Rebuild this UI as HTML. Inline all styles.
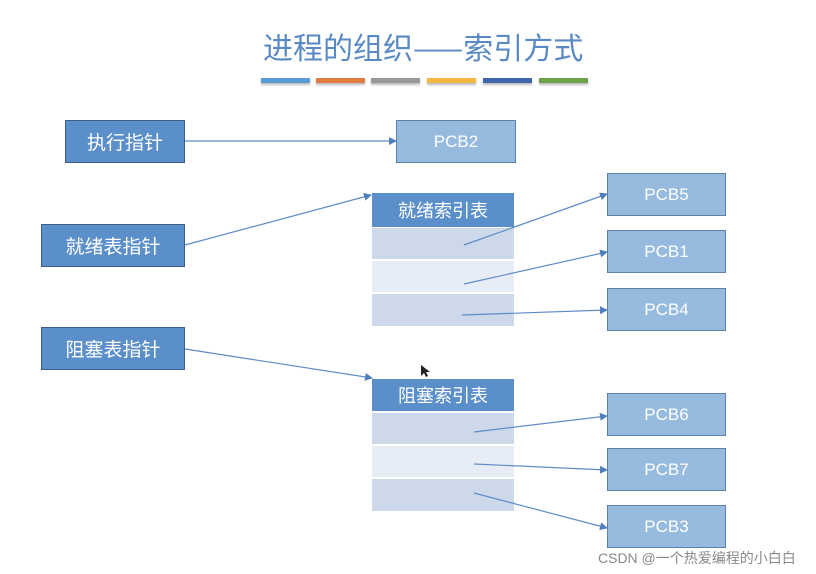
<!DOCTYPE html>
<html><head><meta charset="utf-8"><style>
body{margin:0;width:816px;height:574px;background:#fff;position:relative;overflow:hidden;font-family:"Liberation Sans","Noto Sans CJK SC",sans-serif}
.a{position:absolute;box-sizing:border-box;display:flex;align-items:center;justify-content:center;color:#fff}
.l{background:#5b8fc9;border:1px solid #3b5f8a;font-size:19px}
.p{background:#97badf;border:1px solid #5f80a8;font-size:17px}
.h{background:#5b8fc9;font-size:18px}
.r1{background:#cdd9ea}.r2{background:#e7edf6}
.bar{position:absolute;top:78px;height:5px;width:49px;box-shadow:0 2px 2px #bbb}
</style></head><body>
<div style="position:absolute;left:263px;top:26px;white-space:nowrap;color:#5a8ac4;font-size:30px;line-height:40px;font-family:'Noto Sans CJK SC',sans-serif">进程的组织——索引方式</div>
<div class="bar" style="left:261px;background:#5b9bd5"></div>
<div class="bar" style="left:316px;background:#e07b42"></div>
<div class="bar" style="left:371px;background:#999"></div>
<div class="bar" style="left:427px;background:#f2b840"></div>
<div class="bar" style="left:483px;background:#3f66aa"></div>
<div class="bar" style="left:539px;background:#6ea24a"></div>

<div class="a l" style="left:65px;top:120px;width:120px;height:43px">执行指针</div>
<div class="a l" style="left:41px;top:224px;width:144px;height:43px">就绪表指针</div>
<div class="a l" style="left:41px;top:327px;width:144px;height:43px">阻塞表指针</div>

<div class="a p" style="left:396px;top:120px;width:120px;height:43px">PCB2</div>
<div class="a p" style="left:607px;top:173px;width:119px;height:43px">PCB5</div>
<div class="a p" style="left:607px;top:230px;width:119px;height:43px">PCB1</div>
<div class="a p" style="left:607px;top:288px;width:119px;height:43px">PCB4</div>
<div class="a p" style="left:607px;top:393px;width:119px;height:43px">PCB6</div>
<div class="a p" style="left:607px;top:448px;width:119px;height:43px">PCB7</div>
<div class="a p" style="left:607px;top:505px;width:119px;height:43px">PCB3</div>

<div class="a h" style="left:372px;top:193px;width:142px;height:34px">就绪索引表</div>
<div class="a r1" style="left:372px;top:228px;width:142px;height:31px"></div>
<div class="a r2" style="left:372px;top:261px;width:142px;height:31px"></div>
<div class="a r1" style="left:372px;top:294px;width:142px;height:32px"></div>
<div class="a h" style="left:372px;top:379px;width:142px;height:32px">阻塞索引表</div>
<div class="a r1" style="left:372px;top:413px;width:142px;height:31px"></div>
<div class="a r2" style="left:372px;top:446px;width:142px;height:31px"></div>
<div class="a r1" style="left:372px;top:479px;width:142px;height:32px"></div>

<svg style="position:absolute;left:0;top:0" width="816" height="574">
<defs><marker id="m" markerWidth="8" markerHeight="8" refX="7" refY="4" orient="auto" markerUnits="userSpaceOnUse"><path d="M0,0 L8,4 L0,8 z" fill="#4f7fbf"/></marker></defs>
<g stroke="#5f8cc6" stroke-width="1.2" marker-end="url(#m)">
<line x1="185" y1="141" x2="396" y2="141"/>
<line x1="185" y1="245" x2="371" y2="195"/>
<line x1="185" y1="349" x2="372" y2="378"/>
<line x1="464" y1="245" x2="607" y2="194"/>
<line x1="464" y1="284" x2="607" y2="252"/>
<line x1="462" y1="315" x2="607" y2="310"/>
<line x1="474" y1="432" x2="607" y2="416"/>
<line x1="474" y1="464" x2="607" y2="470"/>
<line x1="474" y1="493" x2="607" y2="528"/>
</g>
<path d="M421,365 l0,11 l3,-3 l2,4 l2,-1 l-2,-4 l4,0 z" fill="#222"/>
</svg>
<div style="position:absolute;left:598px;top:548px;font-size:14px;color:#888">CSDN @一个热爱编程的小白白</div>
</body></html>
